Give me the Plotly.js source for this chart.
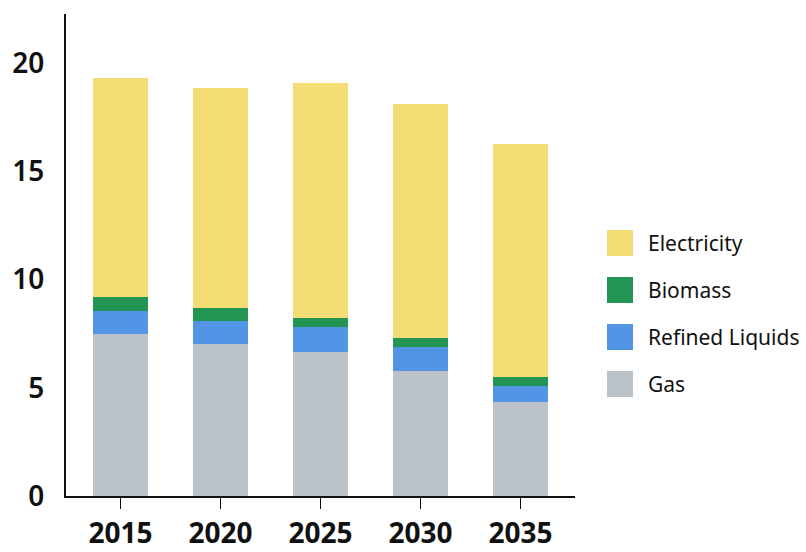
<!DOCTYPE html>
<html><head><meta charset="utf-8">
<script src="https://cdn.plot.ly/plotly-3.0.1.min.js"></script>
<style>html,body{margin:0;padding:0;background:#fff}#chart{width:806px;height:552px}</style>
</head><body><div id="chart"></div>
<script>
const years = ['2015','2020','2025','2030','2035'];
const gas = [7.5, 7.04, 6.67, 5.79, 4.35];
const refinedLiquids = [1.06, 1.06, 1.15, 1.11, 0.74];
const biomass = [0.65, 0.56, 0.42, 0.41, 0.42];
const electricity = [10.1, 10.18, 10.83, 10.79, 10.74];
const seriesNames = ['Gas','Refined Liquids','Biomass','Electricity'];
const seriesColors = ['#BBC2C8','#5195E4','#239553','#F5DD75'];
const seriesValues = [gas, refinedLiquids, biomass, electricity];
const yTicks = [0,5,10,15,20];

const font = "'Source Sans Pro','Noto Sans', sans-serif";
const traces = seriesValues.map((v,i)=>({
  type:'bar', x: years, y: v, name: seriesNames[i],
  marker:{color: seriesColors[i], line:{width:0}},
  width: 0.55, showlegend:false, hoverinfo:'skip'
}));

// custom legend (top to bottom: Electricity, Biomass, Refined Liquids, Gas)
const shapes = [], annotations = [];
const legendOrder = [3,2,1,0];
const plotH = 552-14-56;
legendOrder.forEach((si,k)=>{
  const cy = 243 + k*47; // pixel center
  const yc = (552-56 - cy)/plotH;
  const hh = 13/plotH;
  const pw = 575-66;
  shapes.push({type:'rect', xref:'paper', yref:'paper',
    x0:(607-66)/pw, x1:(633-66)/pw, y0:yc-hh, y1:yc+hh,
    fillcolor: seriesColors[si], line:{width:0}});
  annotations.push({xref:'paper', yref:'paper', x:(646-66)/pw, y:yc,
    xanchor:'left', yanchor:'middle', text: seriesNames[si], showarrow:false,
    font:{family:font, size:21, color:'#111'}});
});

const layout = {
  width:806, height:552,
  margin:{l:66, r:231, t:14, b:56},
  paper_bgcolor:'#fff', plot_bgcolor:'#fff',
  barmode:'stack', bargap:0.45,
  font:{family:font, color:'#111'},
  xaxis:{type:'category', range:[-0.545,4.545], showline:true, linecolor:'#111', linewidth:2,
    ticks:'outside', ticklen:11, tickwidth:1.5, tickcolor:'#111',
    tickfont:{family:font, size:28, weight:700, color:'#111'}, showgrid:false, zeroline:false},
  yaxis:{range:[0,22.26], tickvals:yTicks, showline:true, linecolor:'#111', linewidth:2,
    ticks:'', showgrid:false, zeroline:false, ticklabelstandoff:14,
    tickfont:{family:font, size:28, weight:600, color:'#111'}},
  shapes: shapes, annotations: annotations, showlegend:false
};
Plotly.newPlot('chart', traces, layout, {displayModeBar:false, staticPlot:true});
</script></body></html>
